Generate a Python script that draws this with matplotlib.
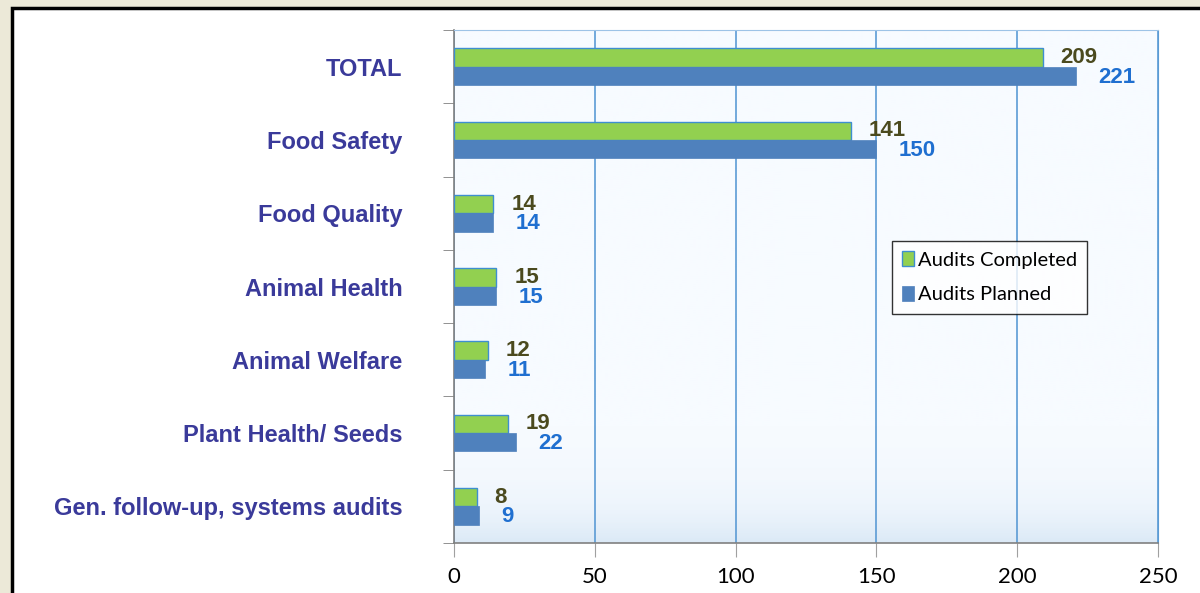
import numpy as np
import matplotlib.pyplot as plt
from matplotlib.patches import Rectangle

categories = ["TOTAL", "Food Safety", "Food Quality", "Animal Health",
              "Animal Welfare", "Plant Health/ Seeds", "Gen. follow-up, systems audits"]
completed = [209, 141, 14, 15, 12, 19, 8]
planned = [221, 150, 14, 15, 11, 22, 9]
xticks = [0, 50, 100, 150, 200, 250]

fig = plt.figure(figsize=(12, 5.93), dpi=100)
fig.patch.set_facecolor("#ECE9D8")
# white chart area with black frame (behind the axes)
frame = Rectangle((12 / 1200, -0.05), 1.0, 1 - 8 / 593 + 0.05,
                  transform=fig.transFigure, facecolor="white",
                  edgecolor="black", linewidth=2.5, zorder=-10)
fig.add_artist(frame)

ax = fig.add_axes([454 / 1200, 1 - 543 / 593, 704 / 1200, 513 / 593])
ax.set_facecolor("none")

# light blue gradient at the bottom of the plot area
grad = np.linspace(0, 1, 256).reshape(-1, 1) ** 14
ax.imshow(grad, extent=[0, 250, 6.5, -0.5], aspect="auto", cmap="Blues",
          vmin=0, vmax=7, zorder=0, origin="upper")

y = np.arange(len(categories))
h = 0.25
ax.barh(y - h / 2, completed, height=h, color="#92D050", edgecolor="#3E8ED0",
        linewidth=1, label="Audits Completed", zorder=3)
ax.barh(y + h / 2, planned, height=h, color="#4F81BD", edgecolor="#4F81BD",
        linewidth=0.5, label="Audits Planned", zorder=3)

for yi, c, p in zip(y, completed, planned):
    ax.annotate(str(c), (c, yi - h / 2), xytext=(13, 0), textcoords="offset points",
                ha="left", va="center", fontsize=16, fontweight="bold",
                color="#4B4A1E", family="Liberation Sans")
    ax.annotate(str(p), (p, yi + h / 2), xytext=(16, -1), textcoords="offset points",
                ha="left", va="center", fontsize=16, fontweight="bold",
                color="#1F6FD0", family="Liberation Sans")

ax.set_xlim(0, 250)
ax.set_ylim(6.5, -0.5)
ax.set_xticks(xticks)
ax.set_xticklabels([str(t) for t in xticks], family="Lato", fontsize=16)
ax.xaxis.grid(True, color="#5B9BD5", linewidth=1.2, zorder=1)
ax.set_axisbelow(True)

ax.set_yticks(y)
ax.set_yticklabels(categories, fontsize=17, fontweight="bold",
                   color="#3A3A9A", family="Liberation Sans")
ax.tick_params(axis="y", length=0, pad=37)
ax.set_yticks(np.arange(-0.5, 7, 1), minor=True)
ax.tick_params(axis="y", which="minor", length=8, color="#808080", direction="out")
ax.tick_params(axis="x", length=10, color="#A0A0A0", pad=7)

for s in ["left", "bottom"]:
    ax.spines[s].set_color("#808080")
    ax.spines[s].set_linewidth(1.2)
ax.spines["right"].set_color("#5B9BD5")
ax.spines["top"].set_color("#9DC3E6")

leg = ax.legend(loc="upper left", bbox_to_anchor=(0.622, 0.589), frameon=True,
                fancybox=False, edgecolor="black", handlelength=0.6,
                handleheight=0.8, handletextpad=0.2, labelspacing=0.85,
                prop={"family": "Lato", "size": 14.5}, borderpad=0.5,
                borderaxespad=0)
leg.get_frame().set_linewidth(1)
leg.set_zorder(5)

fig.savefig("out.png", dpi=100, facecolor=fig.get_facecolor())
